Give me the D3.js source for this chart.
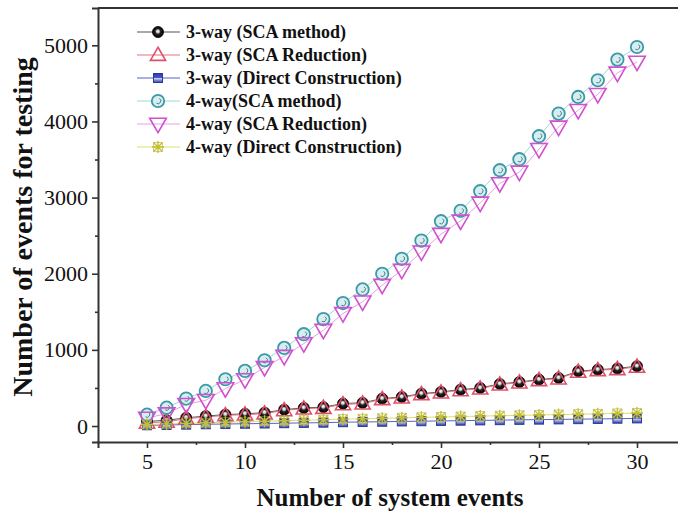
<!DOCTYPE html>
<html>
<head>
<meta charset="utf-8">
<script src="https://cdn.jsdelivr.net/npm/d3@7/dist/d3.min.js"></script>
<style>
  html, body { margin: 0; padding: 0; background: #fff; }
  svg { display: block; font-family: "Liberation Serif", "Times New Roman", serif; }
</style>
</head>
<body>
<svg id="chart" width="678" height="515"></svg>
<script>
// Number of system events (x values)
const events = [5,6,7,8,9,10,11,12,13,14,15,16,17,18,19,20,21,22,23,24,25,26,27,28,29,30];

// Number of events for testing, per approach
const way3ScaMethod    = [60,75,108,130,150,160,175,215,238,248,295,305,360,382,425,448,478,500,553,578,610,632,720,740,756,786];
const way3ScaReduction = [42,55,96,118,140,149,162,206,228,237,285,294,351,373,417,439,469,491,544,570,601,623,711,732,746,776];
const way3Direct       = [10,14,18,23,26,30,33,37,41,44,50,53,56,60,63,67,70,74,77,81,84,87,90,93,96,100];
const way4ScaMethod    = [149,241,360,461,614,724,864,1026,1206,1404,1615,1794,1999,2196,2435,2690,2826,3084,3360,3504,3806,4103,4322,4541,4812,4978];
const way4ScaReduction = [105,162,285,338,491,610,770,917,1083,1259,1478,1632,1850,2047,2288,2520,2694,2930,3185,3337,3635,3928,4147,4357,4637,4781];
const way4Direct       = [20,28,35,42,50,56,63,70,76,82,90,95,101,108,114,118,124,130,135,140,145,150,155,160,165,170];

// Tick values
const xTicks = [5,10,15,20,25,30];
const xMinorTicks = [7.5,12.5,17.5,22.5,27.5];
const yTicks = [0,1000,2000,3000,4000,5000];
const yMinorTicks = [500,1500,2500,3500,4500];

const seriesNames = [
  "3-way (SCA method)",
  "3-way (SCA Reduction)",
  "3-way (Direct Construction)",
  "4-way(SCA method)",
  "4-way (SCA Reduction)",
  "4-way (Direct Construction)"
];

const series = [
  { name: seriesNames[0], values: way3ScaMethod,    line: "#555555", kind: "ball" },
  { name: seriesNames[1], values: way3ScaReduction, line: "#e8707e", kind: "triUp" },
  { name: seriesNames[2], values: way3Direct,       line: "#5563c8", kind: "square" },
  { name: seriesNames[3], values: way4ScaMethod,    line: "#9ad8d8", kind: "ring" },
  { name: seriesNames[4], values: way4ScaReduction, line: "#e8a0e8", kind: "triDown" },
  { name: seriesNames[5], values: way4Direct,       line: "#dede70", kind: "star" }
];

const svg = d3.select("#chart");
const plotLeft = 98, plotRight = 686, plotTop = 8, plotBottom = 442;

const x = d3.scaleLinear().domain([2.5, 32.5]).range([plotLeft, plotRight]);
const y = d3.scaleLinear().domain([-210, 5490]).range([plotBottom, plotTop]);

// gradient for the shaded black ball
const defs = svg.append("defs");
const g1 = defs.append("radialGradient").attr("id", "ball").attr("cx", "50%").attr("cy", "50%").attr("r", "55%").attr("fx", "48%").attr("fy", "42%");
g1.append("stop").attr("offset", "0%").attr("stop-color", "#ffffff");
g1.append("stop").attr("offset", "22%").attr("stop-color", "#cfcfcf");
g1.append("stop").attr("offset", "45%").attr("stop-color", "#222");
g1.append("stop").attr("offset", "100%").attr("stop-color", "#000");

const g2 = defs.append("linearGradient").attr("id", "sq").attr("x1", "0").attr("y1", "0").attr("x2", "0").attr("y2", "1");
g2.append("stop").attr("offset", "0%").attr("stop-color", "#2a3aa8");
g2.append("stop").attr("offset", "50%").attr("stop-color", "#4a5ad0");
g2.append("stop").attr("offset", "55%").attr("stop-color", "#c8ccf0");
g2.append("stop").attr("offset", "100%").attr("stop-color", "#2a3aa8");

function drawMarker(sel, kind) {
  if (kind === "ball") {
    sel.append("circle").attr("r", 5.5).attr("fill", "url(#ball)").attr("stroke", "#000").attr("stroke-width", 0.8);
  } else if (kind === "triUp") {
    sel.append("path").attr("d", d3.symbol(d3.symbolTriangle, 100)()).attr("transform", "translate(0,1)")
      .attr("fill", "none").attr("stroke", "#e0506a").attr("stroke-width", 1.6);
  } else if (kind === "square") {
    sel.append("rect").attr("x", -4.5).attr("y", -4.5).attr("width", 9).attr("height", 9)
      .attr("fill", "url(#sq)").attr("stroke", "#2a3a9a").attr("stroke-width", 1);
  } else if (kind === "ring") {
    sel.append("circle").attr("r", 6.2).attr("fill", "#d6eef0").attr("stroke", "#3a9aa6").attr("stroke-width", 1.8);
    sel.append("path").attr("d", "M1.5,-2.5 A2.5,2.5 0 0 1 -1.5,2.2").attr("fill", "none").attr("stroke", "#4a7c86").attr("stroke-width", 1);
  } else if (kind === "triDown") {
    sel.append("path").attr("d", d3.symbol(d3.symbolTriangle, 120)()).attr("transform", "rotate(180) translate(0,1)")
      .attr("fill", "none").attr("stroke", "#d050d0").attr("stroke-width", 1.6);
  } else if (kind === "star") {
    sel.append("rect").attr("x", -4.5).attr("y", -4.5).attr("width", 9).attr("height", 9)
      .attr("fill", "none").attr("stroke", "#a8a838").attr("stroke-width", 0.8).attr("opacity", 0.7);
    sel.append("path").attr("d", "M-6,0H6M0,-6V6M-4.5,-4.5L4.5,4.5M-4.5,4.5L4.5,-4.5")
      .attr("fill", "none").attr("stroke", "#c4c030").attr("stroke-width", 1.4);
  }
}

const plot = svg.append("g");

// connecting lines
const line = d3.line().x((d, i) => x(events[i])).y(d => y(d));
series.forEach(s => {
  plot.append("path").datum(s.values).attr("d", line)
    .attr("fill", "none").attr("stroke", s.line).attr("stroke-width", 1);
});

// markers
series.forEach(s => {
  plot.append("g").selectAll("g").data(s.values).join("g")
    .attr("transform", (d, i) => `translate(${x(events[i])},${y(d)})`)
    .each(function () { drawMarker(d3.select(this), s.kind); });
});

// axes
const axisColor = "#333";
svg.append("g").attr("transform", `translate(0,${plotBottom})`)
  .call(d3.axisBottom(x).tickValues(xTicks).tickSize(6).tickPadding(5).tickFormat(d3.format("d")));
svg.append("g").attr("transform", `translate(0,${plotBottom})`)
  .call(d3.axisBottom(x).tickValues(xMinorTicks).tickSize(3).tickFormat(""))
  .call(g => g.select(".domain").remove());

svg.append("g").attr("transform", `translate(${plotLeft},0)`)
  .call(d3.axisLeft(y).tickValues(yTicks).tickSize(6).tickPadding(4).tickFormat(d3.format("d")));
svg.append("g").attr("transform", `translate(${plotLeft},0)`)
  .call(d3.axisLeft(y).tickValues(yMinorTicks).tickSize(3).tickFormat(""))
  .call(g => g.select(".domain").remove());

svg.selectAll(".domain").attr("stroke", axisColor).attr("stroke-width", 2);
svg.selectAll(".tick line").attr("stroke", axisColor).attr("stroke-width", 1.6);
svg.selectAll(".tick text").attr("fill", "#111").style("font-size", "22px")
  .style("font-family", "'Liberation Serif', 'Times New Roman', serif");

// top frame line
svg.append("line").attr("x1", plotLeft).attr("x2", 678).attr("y1", plotTop).attr("y2", plotTop)
  .attr("stroke", axisColor).attr("stroke-width", 2);

// axis titles
svg.append("text").attr("x", 390).attr("y", 506).attr("text-anchor", "middle")
  .style("font-size", "25px").style("font-weight", "bold").attr("fill", "#111")
  .text("Number of system events");
svg.append("text").attr("transform", "translate(32,227) rotate(-90)").attr("text-anchor", "middle")
  .style("font-size", "28px").style("font-weight", "bold").attr("fill", "#111")
  .text("Number of events for testing");

// legend
const legend = svg.append("g");
series.forEach((s, i) => {
  const ly = 32 + i * 23;
  const row = legend.append("g").attr("transform", `translate(0,${ly})`);
  row.append("line").attr("x1", 137).attr("x2", 180).attr("y1", 0).attr("y2", 0)
    .attr("stroke", s.line).attr("stroke-width", 1.2);
  const m = row.append("g").attr("transform", "translate(158,0)");
  drawMarker(m, s.kind);
  row.append("text").attr("x", 186).attr("y", 6).style("font-size", "18px").style("font-weight", "bold")
    .attr("fill", "#111").text(s.name);
});
</script>
</body>
</html>
